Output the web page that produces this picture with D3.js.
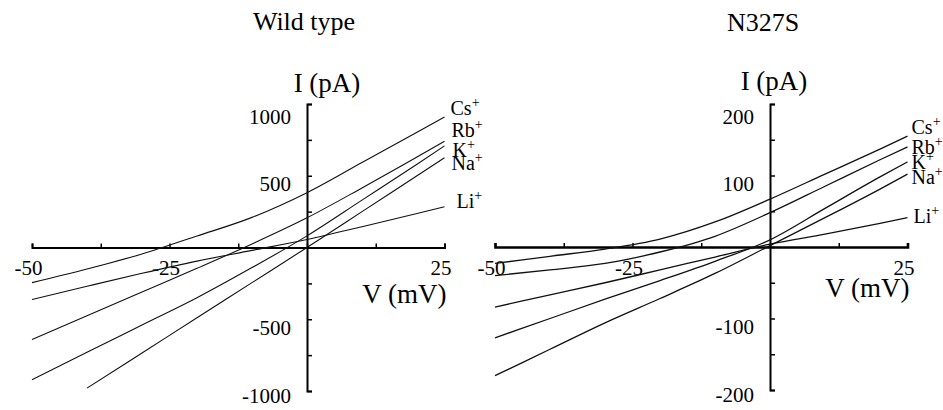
<!DOCTYPE html>
<html>
<head>
<meta charset="utf-8">
<script src="https://d3js.org/d3.v7.min.js"></script>
<style>
  body { margin: 0; background: #fff; }
  svg { display: block; font-family: "Liberation Serif", "Times New Roman", serif; }
</style>
</head>
<body>
<div id="chart"></div>
<script>
// ===== DATA =====
var voltages = [-50, -40, -30, -20, -10, 0, 10, 20, 25];   // mV
var ions = ["Cs", "Rb", "K", "Na", "Li"];

// Wild type currents (pA)
var wtCs = [-245, -150, -45, 80, 210, 382, 592, 803, 909];
var wtRb = [-641, -475, -310, -145, 25, 207, 415, 630, 741];
var wtK  = [-921, -730, -540, -350, -140, 81, 330, 580, 708];
var wtNa = [null, -980, -735, -490, -245, 0, 250, 500, 625];
var wtLi = [-362, -270, -180, -95, -20, 56, 145, 237, 284];

// N327S currents (pA)
var mutCs = [-23, -13, -3, 11, 35, 67, 102, 137, 155];
var mutRb = [-40, -32, -23, -7, 15, 48, 85, 122, 140];
var mutK  = [-127, -100, -73, -47, -20, 10, 54, 98, 119];
var mutNa = [-180, -143, -106, -72, -37, 2, 41, 81, 102];
var mutLi = [-84, -67, -50, -32, -14, 4, 18, 33, 41];

// ticks
var xTicks = [-50, -37.5, -25, -12.5, 0, 12.5, 25];
var xTickLabels = [-50, -25, 25];
var wtYTicks = [-1000, -750, -500, -250, 0, 250, 500, 750, 1000];
var wtYTickLabels = [-1000, -500, 500, 1000];
var mutYTicks = [-200, -150, -100, -50, 0, 50, 100, 150, 200];
var mutYTickLabels = [-200, -100, 100, 200];

var w = 943;
var h = 410;

var svg = d3.select("#chart")
            .append("svg")
            .attr("width", w)
            .attr("height", h);

// ===== one I-V panel =====
function drawPanel(p)
{
  var x = d3.scaleLinear()
            .domain([-50, 25])
            .range(p.xRange);

  var y = d3.scaleLinear()
            .domain(p.yDomain)
            .range(p.yRange);

  var g = svg.append("g");

  // title
  g.append("text")
   .attr("x", p.titleX)
   .attr("y", p.titleY)
   .attr("text-anchor", "middle")
   .attr("font-size", "26px")
   .text(p.title);

  // x axis (ticks point up)
  var xAxis = g.append("g")
               .attr("transform", "translate(0," + y(0) + ")")
               .call(d3.axisBottom(x)
                       .tickValues(xTicks)
                       .tickSize(-4)
                       .tickSizeOuter(-4)
                       .tickPadding(13)
                       .tickFormat(function(d) {
                         return xTickLabels.indexOf(d) >= 0 ? String(d) : "";
                       }));
  xAxis.attr("font-size", "21px").attr("font-family", null);
  xAxis.select(".domain").attr("stroke-width", p.baseWidth);
  xAxis.selectAll(".tick line").attr("stroke-width", 1.5);
  xAxis.selectAll(".tick text").attr("dx", "-4");

  // y axis (ticks point right, labels on the left)
  var top = p.yDomain[1], bottom = p.yDomain[0];
  var yAxis = g.append("g")
               .attr("transform", "translate(" + x(0) + ",0)")
               .call(d3.axisLeft(y)
                       .tickValues(p.yTicks)
                       .tickSize(-5)
                       .tickSizeOuter(-5)
                       .tickPadding(16)
                       .tickFormat(function(d) {
                         return p.yTickLabels.indexOf(d) >= 0 ? String(d) : "";
                       }));
  yAxis.attr("font-size", "21px").attr("font-family", null);
  yAxis.select(".domain").attr("stroke-width", 2);
  yAxis.selectAll(".tick line").attr("stroke-width", 1.5);
  // labels sit a little below their ticks, like in the original figure
  yAxis.selectAll(".tick text")
       .attr("dy", function(d) {
         if (d === top) return "0.95em";
         if (d === bottom) return "0.55em";
         return "0.72em";
       });

  // axis titles
  g.append("text")
   .attr("x", x(0) + p.iLabelDx)
   .attr("y", p.iLabelY)
   .attr("text-anchor", "middle")
   .attr("font-size", "27px")
   .text("I (pA)");

  g.append("text")
   .attr("x", x(25) + 2)
   .attr("y", p.vLabelY)
   .attr("text-anchor", "end")
   .attr("font-size", "27px")
   .text("V (mV)");

  // current traces
  var line = d3.line()
               .defined(function(d) { return d[1] != null; })
               .x(function(d) { return x(d[0]); })
               .y(function(d) { return y(d[1]); })
               .curve(d3.curveMonotoneX);

  p.series.forEach(function(vals, i) {
    var pts = voltages.map(function(v, j) { return [v, vals[j]]; });

    g.append("path")
     .datum(pts)
     .attr("d", line)
     .attr("fill", "none")
     .attr("stroke", "#111")
     .attr("stroke-width", p.traceWidth);

    // ion label next to the trace end
    var lab = g.append("text")
               .attr("x", x(25) + p.ionDx[i])
               .attr("y", y(vals[vals.length - 1]) + p.ionDy[i])
               .attr("font-size", "20px");
    lab.append("tspan").text(ions[i]);
    lab.append("tspan")
       .attr("dy", "-8")
       .attr("font-size", "14px")
       .text("+");
  });
}

drawPanel({
  title: "Wild type", titleX: 304, titleY: 30,
  xRange: [32, 444.5], yDomain: [-1000, 1000], yRange: [391, 104],
  yTicks: wtYTicks, yTickLabels: wtYTickLabels,
  series: [wtCs, wtRb, wtK, wtNa, wtLi],
  ionDx: [6, 7, 8, 7, 12], ionDy: [-2, -4, 11, 12, 1],
  iLabelDx: 20, iLabelY: 92, vLabelY: 303,
  baseWidth: 2, traceWidth: 1.1
});

drawPanel({
  title: "N327S", titleX: 763, titleY: 31,
  xRange: [495, 907.5], yDomain: [-200, 200], yRange: [390, 104],
  yTicks: mutYTicks, yTickLabels: mutYTickLabels,
  series: [mutCs, mutRb, mutK, mutNa, mutLi],
  ionDx: [4, 4, 4, 4, 6], ionDy: [-2, 7, 7, 10, 5],
  iLabelDx: 4, iLabelY: 90, vLabelY: 297,
  baseWidth: 2.6, traceWidth: 1.3
});
</script>
</body>
</html>
